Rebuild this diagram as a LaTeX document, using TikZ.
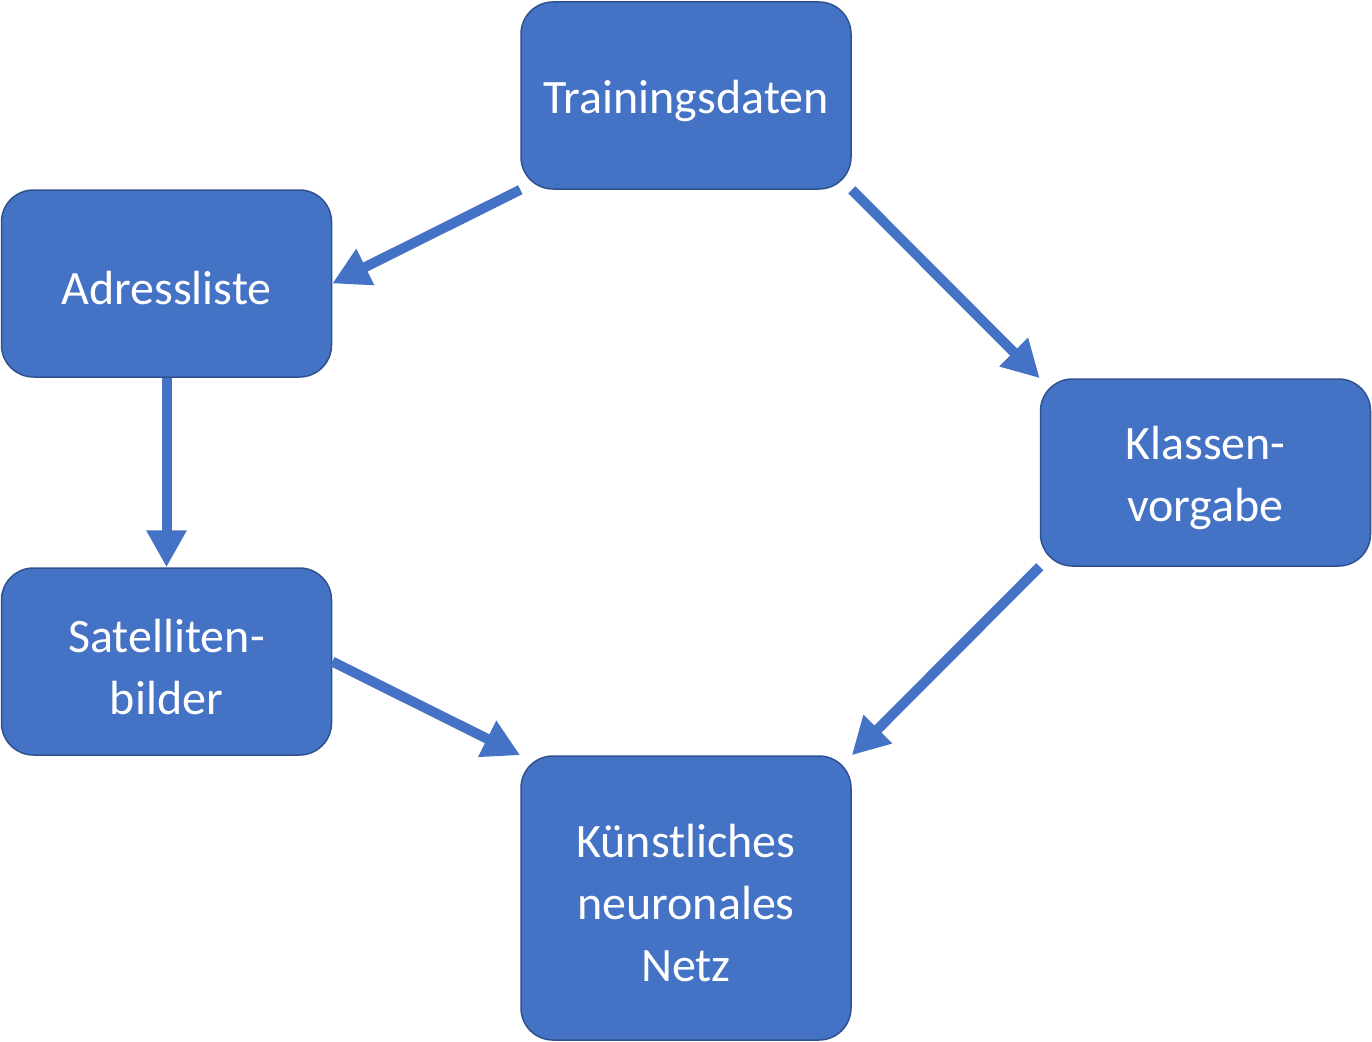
\documentclass[tikz,border=0pt]{standalone}
\usepackage{fontspec}
\setmainfont{Carlito}
\usetikzlibrary{arrows.meta}
\definecolor{boxfill}{HTML}{4472C4}
\definecolor{boxline}{HTML}{2F528F}
\newcommand{\dnline}[1]{\raisebox{-5pt}[\height][\depth]{#1}}
\begin{document}
\begin{tikzpicture}[x=1pt,y=-1pt,
  box/.style={rectangle, rounded corners=32pt, fill=boxfill, draw=boxline, line width=1.5pt,
    minimum width=330pt, minimum height=187pt, inner sep=0pt, text=white, align=center,
    font=\fontsize{48}{62}\selectfont},
  conn/.style={draw=boxfill, line width=10pt, -{Triangle[length=37pt,width=38pt]}}]
\useasboundingbox (0,0) rectangle (1372,1041);
\node[box] (train) at (686,95.5) {\dnline{Trainingsdaten}};
\node[box] (adr) at (166.5,283.5) {\dnline{Adressliste}};
\node[box] (klass) at (1205.5,472.5) {\dnline{Klassen-}\\\dnline{vorgabe}};
\node[box] (sat) at (166.5,661.5) {\dnline{Satelliten-}\\\dnline{bilder}};
\node[box, minimum height=284pt] (knn) at (686,898) {\dnline{Künstliches}\\\dnline{neuronales}\\\dnline{Netz}};
\draw[conn] (train.south west) -- (adr.east);
\draw[conn] (train.south east) -- (klass.north west);
\draw[conn] (adr.south) -- (sat.north);
\draw[conn] (sat.east) -- (knn.north west);
\draw[conn] (klass.south west) -- (knn.north east);
\end{tikzpicture}
\end{document}
